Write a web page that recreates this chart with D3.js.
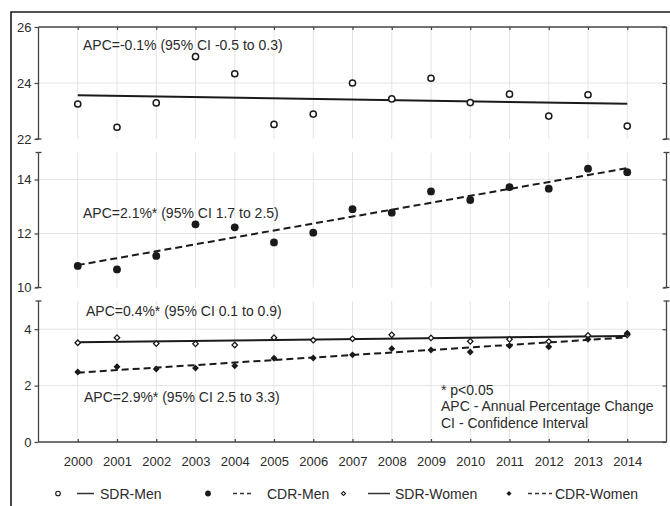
<!DOCTYPE html>
<html>
<head>
<meta charset="utf-8">
<script src="https://cdn.jsdelivr.net/npm/d3@7"></script>
<style>
  html, body { margin: 0; padding: 0; background: #fff; }
  svg { display: block; font-family: "Liberation Sans", Arial, sans-serif; }
</style>
</head>
<body>
<svg id="chart" width="670" height="506"></svg>
<script>
// ---------- data ----------
const years = [2000, 2001, 2002, 2003, 2004, 2005, 2006, 2007, 2008, 2009, 2010, 2011, 2012, 2013, 2014];
const sdrMen   = [23.25, 22.42, 23.29, 24.94, 24.33, 22.52, 22.89, 24.00, 23.43, 24.17, 23.30, 23.60, 22.82, 23.58, 22.46];
const cdrMen   = [10.80, 10.67, 11.17, 12.34, 12.23, 11.67, 12.03, 12.90, 12.77, 13.56, 13.24, 13.72, 13.66, 14.40, 14.27];
const sdrWomen = [3.52, 3.70, 3.49, 3.48, 3.44, 3.70, 3.61, 3.66, 3.80, 3.69, 3.57, 3.64, 3.56, 3.78, 3.80];
const cdrWomen = [2.48, 2.67, 2.59, 2.62, 2.70, 2.97, 2.98, 3.09, 3.31, 3.26, 3.19, 3.41, 3.38, 3.64, 3.86];
// fitted trend values at first and last year
const trendSdrMen   = [23.56, 23.26];
const trendCdrMen   = [10.83, 14.42];
const trendSdrWomen = [3.54, 3.76];
const trendCdrWomen = [2.46, 3.71];
const topTicks = [22, 24, 26];
const midTicks = [10, 12, 14];
const botTicks = [0, 2, 4];
const topDomain = [22, 26];
const midDomain = [10, 15];
const botDomain = [0, 5];
const apcLabels = [
  "APC=-0.1% (95% CI -0.5 to 0.3)",
  "APC=2.1%* (95% CI 1.7 to 2.5)",
  "APC=0.4%* (95% CI 0.1 to 0.9)",
  "APC=2.9%* (95% CI 2.5 to 3.3)"
];
const noteLines = ["* p<0.05", "APC - Annual Percentage Change", "CI - Confidence Interval"];
const legendLabels = ["SDR-Men", "CDR-Men", "SDR-Women", "CDR-Women"];

// ---------- layout ----------
const svg = d3.select("#chart");
const ink = "#1a1a1a";
const textCol = "#2a2a2a";
const gridCol = "#e4e4e4";
const L = 38.5, R = 666.5;

const x = d3.scaleLinear().domain([1999, 2015]).range([L, R]);
const yTop = d3.scaleLinear().domain(topDomain).range([139, 27]);
const yMid = d3.scaleLinear().domain(midDomain).range([287.5, 152.5]);
const yBot = d3.scaleLinear().domain(botDomain).range([442, 301]);

// outer frame
svg.append("path")
  .attr("d", "M11,506 L11,12 L672,12")
  .attr("fill", "none").attr("stroke", ink).attr("stroke-width", 1.6);

const panels = [
  { y: yTop, ticks: topTicks, capTop: false, capBottom: true },
  { y: yMid, ticks: midTicks, capTop: true, capBottom: true },
  { y: yBot, ticks: botTicks, capTop: true, capBottom: false }
];

panels.forEach(p => {
  const [y0, y1] = p.y.range(); // bottom, top
  const g = svg.append("g");
  g.selectAll("line.vg").data(years).join("line")
    .attr("x1", d => x(d)).attr("x2", d => x(d))
    .attr("y1", y1).attr("y2", y0)
    .attr("stroke", gridCol).attr("stroke-width", 1);
  g.selectAll("line.hg").data(p.ticks.filter(t => p.y(t) > y1 + 1 && p.y(t) < y0 - 1)).join("line")
    .attr("x1", L).attr("x2", R)
    .attr("y1", d => p.y(d)).attr("y2", d => p.y(d))
    .attr("stroke", gridCol).attr("stroke-width", 1);

  const la = d3.axisLeft(p.y).tickValues(p.ticks).tickSize(4).tickPadding(4).tickFormat(d3.format("d"));
  const lg = svg.append("g").attr("transform", `translate(${L},0)`).call(la);
  lg.select(".domain").attr("stroke", "#444").attr("stroke-width", 1.3).attr("d", `M0,${y0}V${y1}`);
  lg.selectAll(".tick line").attr("stroke", "#444").attr("stroke-width", 1.2);
  lg.selectAll(".tick text").attr("fill", textCol).style("font-size", "13px")
    .style("font-family", "'Liberation Sans', Arial, sans-serif").attr("x", -7);

  const ra = d3.axisRight(p.y).tickValues(p.ticks).tickSize(-4).tickFormat("");
  const rg = svg.append("g").attr("transform", `translate(${R},0)`).call(ra);
  rg.select(".domain").attr("stroke", "#444").attr("stroke-width", 1.3).attr("d", `M0,${y0}V${y1}`);
  rg.selectAll(".tick line").attr("stroke", "#444").attr("stroke-width", 1.2);

  [L, R].forEach(cx => {
    if (p.capTop) svg.append("line").attr("x1", cx - 3).attr("x2", cx + 3).attr("y1", y1).attr("y2", y1)
      .attr("stroke", "#444").attr("stroke-width", 1.3);
    if (p.capBottom) svg.append("line").attr("x1", cx - 3).attr("x2", cx + 3).attr("y1", y0).attr("y2", y0)
      .attr("stroke", "#444").attr("stroke-width", 1.3);
  });
});

const ta = d3.axisTop(x).tickValues(years).tickSize(-3).tickFormat("");
const tg = svg.append("g").attr("transform", `translate(0,${yTop.range()[1]})`).call(ta);
tg.select(".domain").attr("stroke", "#444").attr("stroke-width", 1.3).attr("d", `M${L},0H${R}`);
tg.selectAll(".tick line").attr("stroke", "#444").attr("stroke-width", 1.2);

const ba = d3.axisBottom(x).tickValues(years).tickSize(-3).tickPadding(15).tickFormat(d3.format("d"));
const bg = svg.append("g").attr("transform", `translate(0,${yBot.range()[0]})`).call(ba);
bg.select(".domain").attr("stroke", "#444").attr("stroke-width", 1.3).attr("d", `M${L},0H${R}`);
bg.selectAll(".tick line").attr("stroke", "#444").attr("stroke-width", 1.2);
bg.selectAll(".tick text").attr("fill", textCol).style("font-size", "13px")
  .style("font-family", "'Liberation Sans', Arial, sans-serif");

// ---------- trend lines ----------
function trend(vals, yScale, dashed) {
  const line = d3.line().x(d => x(d[0])).y(d => yScale(d[1]));
  svg.append("path")
    .attr("d", line([[years[0], vals[0]], [years[years.length - 1], vals[1]]]))
    .attr("fill", "none").attr("stroke", ink).attr("stroke-width", 2)
    .attr("stroke-dasharray", dashed ? "7,4" : null);
}
trend(trendSdrMen, yTop, false);
trend(trendCdrMen, yMid, true);
trend(trendSdrWomen, yBot, false);
trend(trendCdrWomen, yBot, true);

// ---------- markers ----------
const circ = d3.symbol().type(d3.symbolCircle);
const sq = d3.symbol().type(d3.symbolSquare);

function styleMarker(sel, kind, scale) {
  const s = scale || 1;
  if (kind === "openCircle") sel.attr("d", circ.size(30 * s)()).attr("fill", "#fff").attr("stroke", ink).attr("stroke-width", 1.5);
  if (kind === "fillCircle") sel.attr("d", circ.size(48 * s)()).attr("fill", ink);
  if (kind === "openDiamond") sel.attr("d", sq.size(15 * s)()).attr("fill", "#fff").attr("stroke", ink).attr("stroke-width", 1.3);
  if (kind === "fillDiamond") sel.attr("d", sq.size(24 * s)()).attr("fill", ink);
}
function markers(vals, yScale, kind) {
  const rot = kind.indexOf("Diamond") >= 0 ? " rotate(45)" : "";
  const sel = svg.append("g").selectAll("path").data(vals).join("path")
    .attr("transform", (d, i) => `translate(${x(years[i])},${yScale(d)})${rot}`);
  styleMarker(sel, kind);
}
markers(sdrMen, yTop, "openCircle");
markers(cdrMen, yMid, "fillCircle");
markers(sdrWomen, yBot, "openDiamond");
markers(cdrWomen, yBot, "fillDiamond");

// ---------- annotations ----------
const apcPos = [[83, 50], [83, 218], [86, 316], [84, 402]];
svg.selectAll("text.apc").data(apcLabels).join("text")
  .attr("class", "apc")
  .attr("x", (d, i) => apcPos[i][0]).attr("y", (d, i) => apcPos[i][1])
  .attr("fill", textCol).style("font-size", "14px").text(d => d);

svg.selectAll("text.note").data(noteLines).join("text")
  .attr("class", "note")
  .attr("x", 441).attr("y", (d, i) => 395 + i * 16.3)
  .attr("fill", textCol).style("font-size", "14px").text(d => d);

// ---------- legend ----------
const ly = 493.5;
const legendItems = [
  { mx: 58, kind: "openCircle", lx: [77, 94], dashed: false, tx: 100 },
  { mx: 208, kind: "fillCircle", lx: [233, 253], dashed: true, tx: 267 },
  { mx: 343.5, kind: "openDiamond", lx: [368, 390], dashed: false, tx: 395 },
  { mx: 509, kind: "fillDiamond", lx: [528, 552], dashed: true, tx: 555 }
];
legendItems.forEach((it, i) => {
  const rot = it.kind.indexOf("Diamond") >= 0 ? " rotate(45)" : "";
  const m = svg.append("path").attr("transform", `translate(${it.mx},${ly})${rot}`);
  styleMarker(m, it.kind, 0.55);
  m.attr("stroke-width", it.kind.indexOf("open") === 0 ? 1.1 : null);
  svg.append("line").attr("x1", it.lx[0]).attr("x2", it.lx[1]).attr("y1", ly).attr("y2", ly)
    .attr("stroke", "#333").attr("stroke-width", 1.5).attr("stroke-dasharray", it.dashed ? "4,3" : null);
  svg.append("text").attr("x", it.tx).attr("y", ly + 5).attr("fill", textCol)
    .style("font-size", "14px").text(legendLabels[i]);
});
</script>
</body>
</html>
